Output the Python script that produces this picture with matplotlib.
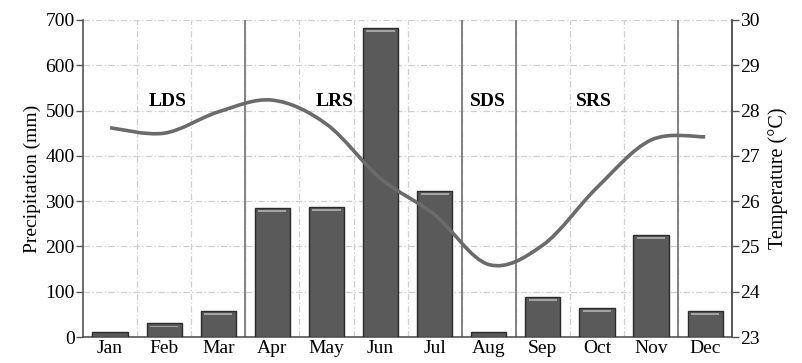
import numpy as np
import matplotlib
matplotlib.use("Agg")
import matplotlib.pyplot as plt
from matplotlib.path import Path
from matplotlib.patches import PathPatch

months = ["Jan", "Feb", "Mar", "Apr", "May", "Jun",
          "Jul", "Aug", "Sep", "Oct", "Nov", "Dec"]
precip = [12, 30, 58, 285, 288, 683, 322, 12, 88, 65, 225, 57]
temp = [27.62, 27.5, 27.97, 28.23, 27.7, 26.5, 25.7, 24.6, 25.03, 26.3, 27.35, 27.42]
season_names = ["LDS", "LRS", "SDS", "SRS"]
season_label_x = [1.07, 4.15, 6.99, 8.95]
season_breaks = [2.5, 6.5, 7.5, 10.5]

plt.rcParams["font.family"] = ["Liberation Serif", "DejaVu Serif"]

fig = plt.figure(figsize=(8.02, 3.63), dpi=100)
ax = fig.add_axes([0.1035, 0.0716, 0.8095, 0.8734])
x = np.arange(len(months))

# ---- bars with a little bevel look
ax.bar(x, precip, width=0.65, color="#5a5a5a", edgecolor="#2b2b2b",
       linewidth=1.0, zorder=3)
hl = np.minimum(np.array(precip) * 0.35, 9)
ax.bar(x, hl * 0.45, bottom=np.array(precip) - hl, width=0.52,
       color="#a3a3a3", linewidth=0, zorder=4)

ax.set_xlim(-0.5, 11.5)
ax.set_ylim(0, 700)
ax.set_yticks(range(0, 701, 100))
ax.set_xticks(x)
ax.set_xticklabels(months)
ax.set_xticks(np.arange(0.5, 11, 1), minor=True)
ax.tick_params(axis="x", which="both", length=0, labelsize=14, pad=2)
ax.tick_params(axis="y", length=5, width=1, color="#555555", labelsize=14, pad=1)
ax.set_ylabel("Precipitation (mm)", fontsize=14, labelpad=3)

ax.grid(True, axis="y", which="major", linestyle=(0, (5, 2, 1, 2)),
        color="#cfcfcf", linewidth=0.9, zorder=0)
ax.grid(True, axis="x", which="minor", linestyle=(0, (5, 2, 1, 2)),
        color="#cfcfcf", linewidth=0.9, zorder=0)
ax.grid(False, axis="x", which="major")

for b in season_breaks:
    ax.axvline(b, color="#7a7a7a", linewidth=1.3, zorder=2)

for name, sx in zip(season_names, season_label_x):
    ax.text(sx, 520, name, ha="center", va="center", fontsize=14,
            fontweight="bold", zorder=6)

ax.spines["top"].set_visible(False)
for side in ["left", "bottom", "right"]:
    ax.spines[side].set_color("#555555")
    ax.spines[side].set_linewidth(1.2)

# ---- temperature on right axis, smoothed like a spreadsheet line
ax2 = ax.twinx()
ax2.set_ylim(23, 30)
ax2.set_yticks(range(23, 31))
ax2.tick_params(axis="y", length=5, width=1, color="#555555", labelsize=14, pad=1)
ax2.set_ylabel("Temperature (°C)", fontsize=14.5, labelpad=6)
ax2.spines["top"].set_visible(False)
ax2.spines["right"].set_color("#555555")
ax2.spines["right"].set_linewidth(1.2)
ax2.spines["left"].set_visible(False)
ax2.spines["bottom"].set_visible(False)

pts = np.column_stack([x, temp])
n = len(pts)
verts = [pts[0]]
codes = [Path.MOVETO]
for i in range(n - 1):
    p0 = pts[max(i - 1, 0)]
    p1 = pts[i]
    p2 = pts[i + 1]
    p3 = pts[min(i + 2, n - 1)]
    c1 = p1 + (p2 - p0) / 6.0
    c2 = p2 - (p3 - p1) / 6.0
    verts += [c1, c2, p2]
    codes += [Path.CURVE4] * 3
ax2.add_patch(PathPatch(Path(verts, codes), facecolor="none",
                        edgecolor="#6b6b6b", linewidth=2.6, zorder=5))

fig.savefig("out.png", dpi=100)
